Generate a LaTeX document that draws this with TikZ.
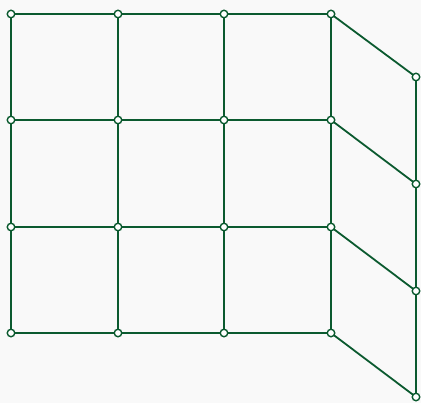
\documentclass[tikz,border=0pt]{standalone}
\definecolor{edgecol}{HTML}{0B5A2F}
\definecolor{bgcol}{HTML}{F9F9F9}
\tikzset{
  vtx/.style={circle, draw=edgecol, fill=white, line width=1.4pt, inner sep=0pt, minimum size=7.5pt},
  edg/.style={draw=edgecol, line width=1.8pt}
}
\begin{document}
\begin{tikzpicture}[x=1pt,y=-1pt]
\fill[bgcol] (0,0) rectangle (421,403);
\useasboundingbox (0,0) rectangle (421,403);
\foreach \i/\x in {0/11,1/118,2/224,3/331}{
  \foreach \j/\y in {0/14,1/120,2/227,3/333}{
    \coordinate (p\i\j) at (\x,\y);
  }
}
\foreach \j/\y in {0/77,1/184,2/291,3/397}{
  \coordinate (r\j) at (416,\y);
}
% edges
\foreach \i in {0,1,2,3}{
  \draw[edg] (p\i0) -- (p\i1) -- (p\i2) -- (p\i3);
  \draw[edg] (p0\i) -- (p1\i) -- (p2\i) -- (p3\i);
  \draw[edg] (p3\i) -- (r\i);
}
\draw[edg] (r0) -- (r1) -- (r2) -- (r3);
% nodes
\foreach \i in {0,1,2,3}{
  \foreach \j in {0,1,2,3}{
    \node[vtx] (n\i\j) at (p\i\j) {};
  }
  \node[vtx] (m\i) at (r\i) {};
}
\end{tikzpicture}
\end{document}
